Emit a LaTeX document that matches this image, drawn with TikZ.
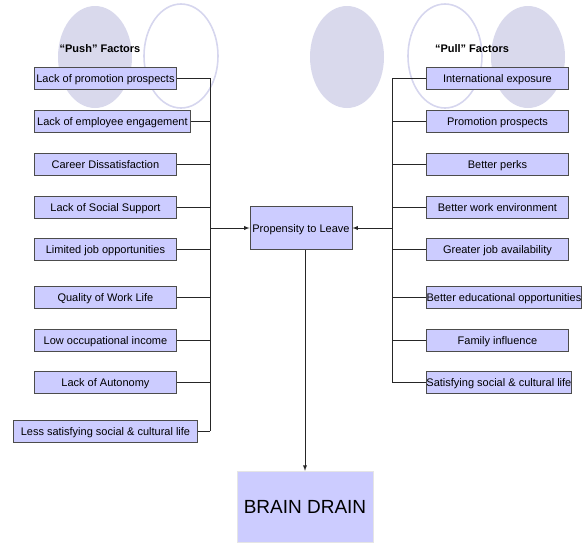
\documentclass[tikz,border=0pt]{standalone}
\usepackage{fontspec}
\setmainfont{Liberation Sans}
\usepackage{tikz}
\usetikzlibrary{arrows,positioning,calc}
\definecolor{boxfill}{RGB}{204,204,255}
\definecolor{ellfill}{RGB}{217,217,236}
\definecolor{ellline}{RGB}{214,214,238}
\tikzset{factor/.style={draw=black!70,fill=boxfill,line width=0.9pt,minimum height=22pt,inner sep=0pt,text height=9pt,text depth=0pt,align=center,font=\fontsize{11}{13}\selectfont}}
\tikzset{bus/.style={draw=black!85,line width=0.9pt}}
\begin{document}
\begin{tikzpicture}[x=1pt,y=-1pt]
\useasboundingbox (0,0) rectangle (582,542);
% ovals at the top
\fill[ellfill] (95,57) ellipse (37 and 51);
\draw[ellline,line width=1.6pt] (181,56) ellipse (37 and 52);
\fill[ellfill] (347,57) ellipse (37 and 51);
\draw[ellline,line width=1.6pt] (445,56) ellipse (37 and 52);
\fill[ellfill] (528,57) ellipse (37 and 51);
\node[font=\fontsize{11}{13}\selectfont\bfseries] (push) at (100,49) {“Push” Factors};
\node[font=\fontsize{11}{13}\selectfont\bfseries] (pull) at (472,49) {“Pull” Factors};
% push side
\node[factor,minimum width=142pt,anchor=west] (p1) at (34,78) {Lack of promotion prospects};
\node[factor,minimum width=156pt,anchor=west] (p2) at (34,121) {Lack of employee engagement};
\node[factor,minimum width=142pt,anchor=west] (p3) at (34,164) {Career Dissatisfaction};
\node[factor,minimum width=142pt,anchor=west] (p4) at (34,207) {Lack of Social Support};
\node[factor,minimum width=142pt,anchor=west] (p5) at (34,249) {Limited job opportunities};
\node[factor,minimum width=142pt,anchor=west] (p6) at (34,297) {Quality of Work Life};
\node[factor,minimum width=142pt,anchor=west] (p7) at (34,340) {Low occupational income};
\node[factor,minimum width=142pt,anchor=west] (p8) at (34,382) {Lack of Autonomy};
\node[factor,minimum width=184pt,anchor=west] (p9) at (13,431) {Less satisfying social \& cultural life};
% pull side
\node[factor,minimum width=142pt,anchor=west] (q1) at (426,78) {International exposure};
\node[factor,minimum width=142pt,anchor=west] (q2) at (426,121) {Promotion prospects};
\node[factor,minimum width=142pt,anchor=west] (q3) at (426,164) {Better perks};
\node[factor,minimum width=142pt,anchor=west] (q4) at (426,207) {Better work environment};
\node[factor,minimum width=142pt,anchor=west] (q5) at (426,249) {Greater job availability};
\node[factor,minimum width=155pt,anchor=west] (q6) at (426,297) {Better educational opportunities};
\node[factor,minimum width=142pt,anchor=west] (q7) at (426,340) {Family influence};
\node[factor,minimum width=142pt,anchor=west] (q8) at (426,382) {Satisfying social \& cultural life};
% centre
\node[factor,minimum width=102pt,minimum height=43pt] (prop) at (301,228) {Propensity to Leave};
\node[fill=boxfill,draw=black!10,minimum width=136pt,minimum height=71pt,inner sep=0pt,font=\fontsize{19}{22}\selectfont] (brain) at (305,506.5) {BRAIN DRAIN};
\coordinate (lbus) at (210,0);
\coordinate (rbus) at (392,0);
% push connectors
\draw[bus] (p1.east) -- (p1.east -| lbus);
\draw[bus] (p2.east) -- (p2.east -| lbus);
\draw[bus] (p3.east) -- (p3.east -| lbus);
\draw[bus] (p4.east) -- (p4.east -| lbus);
\draw[bus] (p5.east) -- (p5.east -| lbus);
\draw[bus] (p6.east) -- (p6.east -| lbus);
\draw[bus] (p7.east) -- (p7.east -| lbus);
\draw[bus] (p8.east) -- (p8.east -| lbus);
\draw[bus] (p9.east) -- (p9.east -| lbus);
\draw[bus] (p1.east -| lbus) -- (p9.east -| lbus);
\draw[bus,-latex] (lbus |- prop) -- (prop.west);
% pull connectors
\draw[bus] (q1.west) -- (q1.west -| rbus);
\draw[bus] (q2.west) -- (q2.west -| rbus);
\draw[bus] (q3.west) -- (q3.west -| rbus);
\draw[bus] (q4.west) -- (q4.west -| rbus);
\draw[bus] (q5.west) -- (q5.west -| rbus);
\draw[bus] (q6.west) -- (q6.west -| rbus);
\draw[bus] (q7.west) -- (q7.west -| rbus);
\draw[bus] (q8.west) -- (q8.west -| rbus);
\draw[bus] (q1.west -| rbus) -- (q8.west -| rbus);
\draw[bus,-latex] (rbus |- prop) -- (prop.east);
% down to brain drain
\draw[bus,-latex] (prop.south -| brain.north) -- (brain.north);
\end{tikzpicture}
\end{document}
